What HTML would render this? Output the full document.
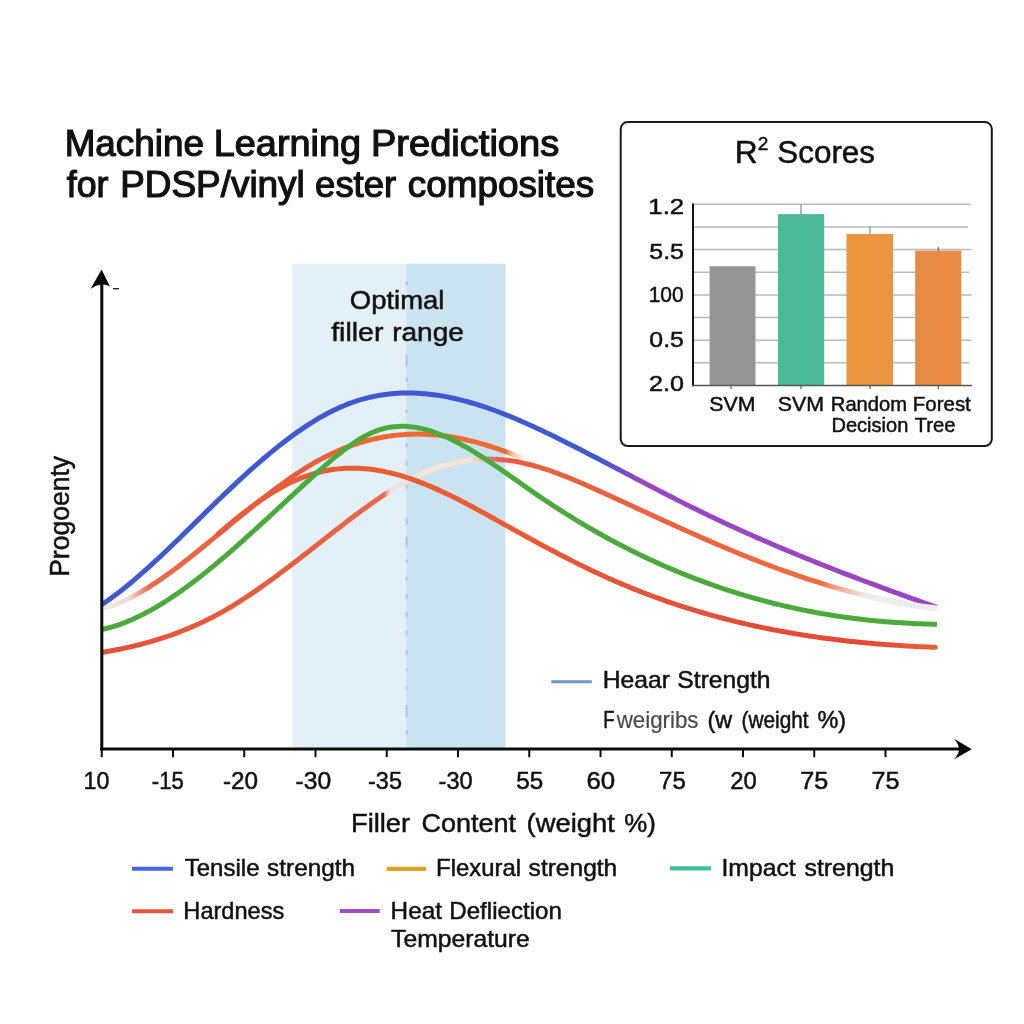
<!DOCTYPE html>
<html lang="en"><head><meta charset="utf-8"><title>Machine Learning Predictions for PDSP/vinyl ester composites</title>
<style>html,body{margin:0;padding:0;background:#fff;}body{width:1024px;height:1024px;overflow:hidden;}svg{display:block;}text{font-family:"Liberation Sans", Arial, Helvetica, sans-serif;fill:#111;}</style></head><body>
<svg width="1024" height="1024" viewBox="0 0 1024 1024">
<defs>
<linearGradient id="gBlue" gradientUnits="userSpaceOnUse" x1="600" y1="0" x2="640" y2="0"><stop offset="0" stop-color="#3f59cf"/><stop offset="1" stop-color="#9a46c1"/></linearGradient>
<linearGradient id="gRedA" gradientUnits="userSpaceOnUse" x1="104" y1="0" x2="531" y2="0"><stop offset="0" stop-color="#f1e7e4"/><stop offset="0.06" stop-color="#f3d9d2"/><stop offset="0.105" stop-color="#e9694a"/><stop offset="0.45" stop-color="#e85c3a"/><stop offset="0.62" stop-color="#ee6833"/><stop offset="0.94" stop-color="#f06a33"/><stop offset="0.955" stop-color="#f9b48c" stop-opacity="0.9"/><stop offset="1" stop-color="#fde6d6" stop-opacity="0"/></linearGradient>
<linearGradient id="gRedC" gradientUnits="userSpaceOnUse" x1="102" y1="0" x2="936.7" y2="0"><stop offset="0.0000" stop-color="#e5513a"/><stop offset="0.2372" stop-color="#e85f3c"/><stop offset="0.3378" stop-color="#ea6a50"/><stop offset="0.3444" stop-color="#ebd9d4"/><stop offset="0.3474" stop-color="#e9e4e2"/><stop offset="0.3630" stop-color="#ece6e3"/><stop offset="0.3714" stop-color="#f3e7dc"/><stop offset="0.4409" stop-color="#f7e5d4"/><stop offset="0.4576" stop-color="#f4b9a6"/><stop offset="0.4636" stop-color="#ee7070"/><stop offset="0.4804" stop-color="#ec5e55"/><stop offset="0.4960" stop-color="#ea5c40"/><stop offset="0.5187" stop-color="#ea5f40"/><stop offset="0.5966" stop-color="#e9603f"/><stop offset="0.8602" stop-color="#ee6c42"/><stop offset="0.8865" stop-color="#f4b39c"/><stop offset="0.9153" stop-color="#efe9e6"/><stop offset="1.0004" stop-color="#eeeeee"/></linearGradient>
<linearGradient id="gRedB" gradientUnits="userSpaceOnUse" x1="240" y1="0" x2="936.7" y2="0"><stop offset="0" stop-color="#e85c3a"/><stop offset="0.2" stop-color="#ec5c32"/><stop offset="0.38" stop-color="#ec5c34"/><stop offset="0.55" stop-color="#e5533a"/><stop offset="0.9" stop-color="#e24a36"/><stop offset="1" stop-color="#ea6038"/></linearGradient>
</defs>
<rect width="1024" height="1024" fill="#fff"/>
<rect x="292" y="263.75" width="114.5" height="484" fill="#e3f0f8"/>
<rect x="406.25" y="263.75" width="99.25" height="484" fill="#cbe3f1"/>
<path d="M406.6 281.2V284.9 M406.6 354.5V366.6 M406.6 377.6V381.3 M406.6 409.4V413.0 M406.6 443.5V447.2 M406.6 460.6V465.5 M406.6 485.0V488.7 M406.6 518.3V524.4 M406.6 536.6V547.6 M406.6 559.8V563.0 M406.6 576.9V580.6 M406.6 594.0V598.9 M406.6 612.3V617.2 M406.6 630.6V635.5 M406.6 650.1V655.0 M406.6 668.5V670.9 M406.6 686.8V689.2 M406.6 705.1V717.3 M406.6 730.7V734.4" stroke="#9cc6d6" stroke-width="1.6" fill="none"/>
<text y="155.90" font-size="36.00" stroke="#111" stroke-width="1.20"><tspan x="64.65" textLength="139.26" lengthAdjust="spacingAndGlyphs">Machine</tspan> <tspan x="213.82" textLength="147.19" lengthAdjust="spacingAndGlyphs">Learning</tspan> <tspan x="370.96" textLength="188.28" lengthAdjust="spacingAndGlyphs">Predictions</tspan></text>
<text y="197.00" font-size="36.00" stroke="#111" stroke-width="1.20"><tspan x="66.74" textLength="41.62" lengthAdjust="spacingAndGlyphs">for</tspan> <tspan x="120.15" textLength="184.65" lengthAdjust="spacingAndGlyphs">PDSP/vinyl</tspan> <tspan x="315.14" textLength="80.98" lengthAdjust="spacingAndGlyphs">ester</tspan> <tspan x="407.88" textLength="186.31" lengthAdjust="spacingAndGlyphs">composites</tspan></text>
<text y="309.30" font-size="26.20" stroke="#111" stroke-width="0.50"><tspan x="349.76" textLength="94.70" lengthAdjust="spacingAndGlyphs">Optimal</tspan></text>
<text y="340.90" font-size="26.20" stroke="#111" stroke-width="0.50"><tspan x="331.22" textLength="52.15" lengthAdjust="spacingAndGlyphs">filler</tspan> <tspan x="392.18" textLength="71.73" lengthAdjust="spacingAndGlyphs">range</tspan></text>
<g fill="none" stroke-width="5" stroke-linecap="butt" stroke-linejoin="round">
<path d="M102.00 652.46 C103.33 652.23 104.66 652.01 105.99 651.77 C107.33 651.54 108.66 651.30 109.99 651.06 C111.32 650.81 112.65 650.56 113.98 650.31 C115.31 650.05 116.64 649.79 117.98 649.52 C119.31 649.26 120.64 648.98 121.97 648.70 C123.30 648.42 124.63 648.14 125.96 647.84 C127.29 647.55 128.63 647.25 129.96 646.95 C131.29 646.64 132.62 646.33 133.95 646.01 C135.28 645.69 136.61 645.36 137.94 645.03 C139.28 644.69 140.61 644.35 141.94 644.00 C143.27 643.65 144.60 643.30 145.93 642.93 C147.26 642.57 148.59 642.20 149.93 641.82 C151.26 641.44 152.59 641.05 153.92 640.65 C155.25 640.26 156.58 639.85 157.91 639.44 C159.24 639.03 160.58 638.60 161.91 638.17 C163.24 637.74 164.57 637.31 165.90 636.86 C167.23 636.41 168.56 635.95 169.89 635.49 C171.23 635.02 172.56 634.55 173.89 634.06 C175.22 633.58 176.55 633.08 177.88 632.58 C179.21 632.08 180.54 631.56 181.88 631.04 C183.21 630.52 184.54 629.98 185.87 629.44 C187.20 628.90 188.53 628.34 189.86 627.78 C191.19 627.22 192.53 626.64 193.86 626.06 C195.19 625.47 196.52 624.88 197.85 624.27 C199.18 623.66 200.51 623.05 201.84 622.42 C203.18 621.79 204.51 621.15 205.84 620.50 C207.17 619.85 208.50 619.19 209.83 618.52 C211.16 617.84 212.49 617.16 213.83 616.46 C215.16 615.76 216.49 615.05 217.82 614.33 C219.15 613.61 220.48 612.88 221.81 612.13 C223.14 611.39 224.48 610.63 225.81 609.86 C227.14 609.09 228.47 608.31 229.80 607.52 C231.13 606.73 232.46 605.93 233.79 605.11 C235.13 604.30 236.46 603.48 237.79 602.64 C239.12 601.81 240.45 600.96 241.78 600.11 C243.11 599.25 244.44 598.39 245.78 597.52 C247.11 596.64 248.44 595.76 249.77 594.87 C251.10 593.98 252.43 593.08 253.76 592.17 C255.09 591.26 256.43 590.35 257.76 589.42 C259.09 588.50 260.42 587.57 261.75 586.63 C263.08 585.69 264.41 584.75 265.74 583.80 C267.08 582.84 268.41 581.88 269.74 580.92 C271.07 579.95 272.40 578.98 273.73 578.01 C275.06 577.03 276.40 576.05 277.73 575.06 C279.06 574.07 280.39 573.08 281.72 572.08 C283.05 571.08 284.38 570.08 285.71 569.07 C287.05 568.07 288.38 567.06 289.71 566.04 C291.04 565.03 292.37 564.01 293.70 562.99 C295.03 561.97 296.36 560.94 297.70 559.91 C299.03 558.89 300.36 557.86 301.69 556.82 C303.02 555.79 304.35 554.76 305.68 553.72 C307.01 552.69 308.35 551.65 309.68 550.61 C311.01 549.57 312.34 548.53 313.67 547.49 C315.00 546.45 316.33 545.41 317.66 544.36 C319.00 543.32 320.33 542.28 321.66 541.24 C322.99 540.20 324.32 539.15 325.65 538.11 C326.98 537.07 328.31 536.03 329.65 534.99 C330.98 533.96 332.31 532.92 333.64 531.88 C334.97 530.85 336.30 529.81 337.63 528.78 C338.96 527.75 340.30 526.72 341.63 525.69 C342.96 524.67 344.29 523.64 345.62 522.62 C346.95 521.60 348.28 520.59 349.61 519.57 C350.95 518.56 352.28 517.55 353.61 516.55 C354.94 515.54 356.27 514.54 357.60 513.55 C358.93 512.56 360.26 511.57 361.60 510.59 C362.93 509.61 364.26 508.63 365.59 507.67 C366.92 506.70 368.25 505.74 369.58 504.79 C370.91 503.84 372.25 502.90 373.58 501.97 C374.91 501.04 376.24 500.11 377.57 499.20 C378.90 498.29 380.23 497.39 381.56 496.49 C382.90 495.60 384.23 494.72 385.56 493.85 C386.89 492.99 388.22 492.13 389.55 491.29 C390.88 490.44 392.21 489.61 393.55 488.80 C394.88 487.98 396.21 487.18 397.54 486.39 C398.87 485.60 400.20 484.83 401.53 484.07 C402.86 483.31 404.20 482.57 405.53 481.84 C406.86 481.11 408.19 480.41 409.52 479.71 C410.85 479.02 412.18 478.34 413.51 477.69 C414.85 477.03 416.18 476.39 417.51 475.77 C418.84 475.14 420.17 474.54 421.50 473.95 C422.83 473.36 424.16 472.79 425.50 472.24 C426.83 471.68 428.16 471.15 429.49 470.63 C430.82 470.11 432.15 469.61 433.48 469.12 C434.81 468.64 436.15 468.17 437.48 467.72 C438.81 467.28 440.14 466.84 441.47 466.43 C442.80 466.02 444.13 465.62 445.47 465.24 C446.80 464.86 448.13 464.50 449.46 464.16 C450.79 463.81 452.12 463.49 453.45 463.18 C454.78 462.87 456.12 462.58 457.45 462.30 C458.78 462.03 460.11 461.77 461.44 461.53 C462.77 461.29 464.10 461.07 465.43 460.87 C466.77 460.67 468.10 460.48 469.43 460.31 C470.76 460.14 472.09 459.99 473.42 459.86 C474.75 459.72 476.08 459.61 477.42 459.51 C478.75 459.41 480.08 459.33 481.41 459.27 C482.74 459.20 484.07 459.16 485.40 459.13 C486.73 459.10 488.07 459.09 489.40 459.10 C490.73 459.11 492.06 459.13 493.39 459.17 C494.72 459.22 496.05 459.28 497.38 459.36 C498.72 459.43 500.05 459.53 501.38 459.64 C502.71 459.76 504.04 459.89 505.37 460.03 C506.70 460.18 508.03 460.35 509.37 460.53 C510.70 460.72 512.03 460.92 513.36 461.13 C514.69 461.35 516.02 461.58 517.35 461.83 C518.68 462.08 520.02 462.35 521.35 462.63 C522.68 462.91 524.01 463.20 525.34 463.51 C526.67 463.82 528.00 464.14 529.33 464.48 C530.67 464.82 532.00 465.17 533.33 465.53 C534.66 465.90 535.99 466.27 537.32 466.66 C538.65 467.05 539.98 467.45 541.32 467.87 C542.65 468.28 543.98 468.70 545.31 469.14 C546.64 469.57 547.97 470.02 549.30 470.48 C550.63 470.93 551.97 471.40 553.30 471.88 C554.63 472.35 555.96 472.84 557.29 473.33 C558.62 473.83 559.95 474.33 561.28 474.84 C562.62 475.35 563.95 475.87 565.28 476.40 C566.61 476.92 567.94 477.46 569.27 478.00 C570.60 478.54 571.93 479.08 573.27 479.64 C574.60 480.19 575.93 480.75 577.26 481.32 C578.59 481.88 579.92 482.45 581.25 483.02 C582.58 483.60 583.92 484.18 585.25 484.76 C586.58 485.34 587.91 485.93 589.24 486.52 C590.57 487.11 591.90 487.71 593.23 488.30 C594.57 488.90 595.90 489.50 597.23 490.10 C598.56 490.70 599.89 491.30 601.22 491.90 C602.55 492.51 603.89 493.11 605.22 493.72 C606.55 494.32 607.88 494.93 609.21 495.54 C610.54 496.14 611.87 496.75 613.20 497.36 C614.54 497.97 615.87 498.58 617.20 499.19 C618.53 499.80 619.86 500.41 621.19 501.02 C622.52 501.63 623.85 502.24 625.19 502.85 C626.52 503.47 627.85 504.08 629.18 504.69 C630.51 505.30 631.84 505.92 633.17 506.53 C634.50 507.14 635.84 507.76 637.17 508.37 C638.50 508.98 639.83 509.60 641.16 510.21 C642.49 510.82 643.82 511.43 645.15 512.05 C646.49 512.66 647.82 513.27 649.15 513.89 C650.48 514.50 651.81 515.11 653.14 515.72 C654.47 516.33 655.80 516.95 657.14 517.56 C658.47 518.17 659.80 518.78 661.13 519.39 C662.46 520.00 663.79 520.61 665.12 521.21 C666.45 521.82 667.79 522.43 669.12 523.04 C670.45 523.64 671.78 524.25 673.11 524.85 C674.44 525.46 675.77 526.06 677.10 526.67 C678.44 527.27 679.77 527.87 681.10 528.47 C682.43 529.07 683.76 529.67 685.09 530.27 C686.42 530.87 687.75 531.47 689.09 532.06 C690.42 532.66 691.75 533.25 693.08 533.84 C694.41 534.44 695.74 535.03 697.07 535.62 C698.40 536.21 699.74 536.79 701.07 537.38 C702.40 537.97 703.73 538.55 705.06 539.13 C706.39 539.72 707.72 540.30 709.05 540.88 C710.39 541.46 711.72 542.03 713.05 542.61 C714.38 543.18 715.71 543.76 717.04 544.33 C718.37 544.90 719.70 545.46 721.04 546.03 C722.37 546.60 723.70 547.16 725.03 547.72 C726.36 548.28 727.69 548.84 729.02 549.40 C730.35 549.96 731.69 550.51 733.02 551.06 C734.35 551.61 735.68 552.16 737.01 552.71 C738.34 553.25 739.67 553.80 741.00 554.34 C742.34 554.88 743.67 555.42 745.00 555.95 C746.33 556.49 747.66 557.02 748.99 557.55 C750.32 558.08 751.65 558.61 752.99 559.14 C754.32 559.66 755.65 560.18 756.98 560.70 C758.31 561.22 759.64 561.74 760.97 562.25 C762.30 562.76 763.64 563.27 764.97 563.78 C766.30 564.29 767.63 564.79 768.96 565.29 C770.29 565.79 771.62 566.29 772.96 566.78 C774.29 567.28 775.62 567.77 776.95 568.26 C778.28 568.75 779.61 569.23 780.94 569.72 C782.27 570.20 783.61 570.68 784.94 571.15 C786.27 571.63 787.60 572.10 788.93 572.57 C790.26 573.04 791.59 573.51 792.92 573.97 C794.26 574.43 795.59 574.89 796.92 575.35 C798.25 575.81 799.58 576.26 800.91 576.71 C802.24 577.16 803.57 577.60 804.91 578.05 C806.24 578.49 807.57 578.93 808.90 579.36 C810.23 579.80 811.56 580.23 812.89 580.66 C814.22 581.09 815.56 581.51 816.89 581.93 C818.22 582.35 819.55 582.77 820.88 583.18 C822.21 583.60 823.54 584.01 824.87 584.41 C826.21 584.82 827.54 585.22 828.87 585.62 C830.20 586.02 831.53 586.41 832.86 586.80 C834.19 587.19 835.52 587.58 836.86 587.96 C838.19 588.35 839.52 588.73 840.85 589.10 C842.18 589.48 843.51 589.85 844.84 590.21 C846.17 590.58 847.51 590.94 848.84 591.30 C850.17 591.66 851.50 592.02 852.83 592.37 C854.16 592.72 855.49 593.07 856.82 593.41 C858.16 593.75 859.49 594.09 860.82 594.43 C862.15 594.76 863.48 595.09 864.81 595.42 C866.14 595.74 867.47 596.06 868.81 596.38 C870.14 596.70 871.47 597.01 872.80 597.32 C874.13 597.63 875.46 597.93 876.79 598.23 C878.12 598.53 879.46 598.83 880.79 599.12 C882.12 599.41 883.45 599.69 884.78 599.98 C886.11 600.26 887.44 600.54 888.77 600.81 C890.11 601.08 891.44 601.35 892.77 601.61 C894.10 601.88 895.43 602.14 896.76 602.39 C898.09 602.64 899.42 602.89 900.76 603.14 C902.09 603.38 903.42 603.62 904.75 603.86 C906.08 604.09 907.41 604.32 908.74 604.55 C910.07 604.78 911.41 605.00 912.74 605.21 C914.07 605.43 915.40 605.64 916.73 605.85 C918.06 606.05 919.39 606.25 920.72 606.45 C922.06 606.64 923.39 606.84 924.72 607.02 C926.05 607.21 927.38 607.39 928.71 607.57 C930.04 607.74 931.37 607.91 932.71 608.08 C934.04 608.24 935.37 608.40 936.70 608.56" stroke="url(#gRedC)"/>
<path d="M104.00 608.43 C105.34 608.04 106.68 607.62 108.02 607.18 C109.36 606.73 110.70 606.27 112.04 605.78 C113.38 605.28 114.72 604.77 116.06 604.23 C117.40 603.70 118.74 603.14 120.08 602.56 C121.42 601.98 122.75 601.38 124.09 600.75 C125.43 600.13 126.77 599.49 128.11 598.83 C129.45 598.16 130.79 597.48 132.13 596.78 C133.47 596.08 134.81 595.36 136.15 594.62 C137.49 593.88 138.83 593.13 140.17 592.35 C141.51 591.58 142.85 590.79 144.19 589.98 C145.53 589.18 146.87 588.35 148.21 587.51 C149.55 586.68 150.89 585.82 152.23 584.95 C153.57 584.09 154.91 583.20 156.25 582.31 C157.58 581.41 158.92 580.50 160.26 579.58 C161.60 578.66 162.94 577.72 164.28 576.78 C165.62 575.83 166.96 574.87 168.30 573.90 C169.64 572.93 170.98 571.95 172.32 570.96 C173.66 569.97 175.00 568.97 176.34 567.96 C177.68 566.96 179.02 565.94 180.36 564.91 C181.70 563.88 183.04 562.85 184.38 561.81 C185.72 560.76 187.06 559.71 188.40 558.66 C189.74 557.60 191.08 556.54 192.42 555.47 C193.75 554.40 195.09 553.33 196.43 552.25 C197.77 551.17 199.11 550.09 200.45 549.00 C201.79 547.92 203.13 546.83 204.47 545.73 C205.81 544.64 207.15 543.54 208.49 542.45 C209.83 541.35 211.17 540.25 212.51 539.14 C213.85 538.04 215.19 536.94 216.53 535.84 C217.87 534.73 219.21 533.63 220.55 532.53 C221.89 531.42 223.23 530.32 224.57 529.22 C225.91 528.12 227.25 527.02 228.58 525.92 C229.92 524.82 231.26 523.72 232.60 522.63 C233.94 521.53 235.28 520.44 236.62 519.35 C237.96 518.25 239.30 517.16 240.64 516.08 C241.98 514.99 243.32 513.91 244.66 512.83 C246.00 511.75 247.34 510.67 248.68 509.60 C250.02 508.53 251.36 507.46 252.70 506.40 C254.04 505.34 255.38 504.28 256.72 503.22 C258.06 502.17 259.40 501.12 260.74 500.08 C262.08 499.03 263.42 498.00 264.75 496.96 C266.09 495.93 267.43 494.91 268.77 493.89 C270.11 492.87 271.45 491.86 272.79 490.85 C274.13 489.85 275.47 488.85 276.81 487.86 C278.15 486.87 279.49 485.88 280.83 484.91 C282.17 483.93 283.51 482.97 284.85 482.01 C286.19 481.05 287.53 480.10 288.87 479.16 C290.21 478.23 291.55 477.30 292.89 476.38 C294.23 475.46 295.57 474.56 296.91 473.66 C298.25 472.77 299.58 471.88 300.92 471.02 C302.26 470.15 303.60 469.29 304.94 468.45 C306.28 467.61 307.62 466.78 308.96 465.97 C310.30 465.15 311.64 464.36 312.98 463.58 C314.32 462.80 315.66 462.03 317.00 461.28 C318.34 460.53 319.68 459.80 321.02 459.09 C322.36 458.37 323.70 457.67 325.04 456.99 C326.38 456.30 327.72 455.64 329.06 454.99 C330.40 454.34 331.74 453.70 333.08 453.08 C334.42 452.46 335.75 451.86 337.09 451.27 C338.43 450.68 339.77 450.11 341.11 449.56 C342.45 449.00 343.79 448.46 345.13 447.94 C346.47 447.41 347.81 446.90 349.15 446.41 C350.49 445.92 351.83 445.44 353.17 444.98 C354.51 444.51 355.85 444.06 357.19 443.63 C358.53 443.20 359.87 442.78 361.21 442.38 C362.55 441.98 363.89 441.59 365.23 441.22 C366.57 440.85 367.91 440.49 369.25 440.15 C370.58 439.81 371.92 439.48 373.26 439.17 C374.60 438.86 375.94 438.56 377.28 438.28 C378.62 438.00 379.96 437.73 381.30 437.48 C382.64 437.22 383.98 436.98 385.32 436.76 C386.66 436.54 388.00 436.33 389.34 436.13 C390.68 435.94 392.02 435.75 393.36 435.59 C394.70 435.42 396.04 435.27 397.38 435.13 C398.72 434.99 400.06 434.87 401.40 434.76 C402.74 434.64 404.08 434.55 405.42 434.47 C406.75 434.38 408.09 434.31 409.43 434.26 C410.77 434.20 412.11 434.16 413.45 434.14 C414.79 434.11 416.13 434.09 417.47 434.09 C418.81 434.09 420.15 434.11 421.49 434.13 C422.83 434.16 424.17 434.20 425.51 434.25 C426.85 434.31 428.19 434.37 429.53 434.45 C430.87 434.53 432.21 434.63 433.55 434.73 C434.89 434.84 436.23 434.96 437.57 435.09 C438.91 435.22 440.25 435.37 441.58 435.52 C442.92 435.68 444.26 435.85 445.60 436.04 C446.94 436.22 448.28 436.42 449.62 436.62 C450.96 436.83 452.30 437.05 453.64 437.29 C454.98 437.52 456.32 437.76 457.66 438.02 C459.00 438.28 460.34 438.54 461.68 438.82 C463.02 439.10 464.36 439.39 465.70 439.69 C467.04 439.99 468.38 440.31 469.72 440.63 C471.06 440.95 472.40 441.29 473.74 441.63 C475.08 441.97 476.42 442.33 477.75 442.69 C479.09 443.06 480.43 443.43 481.77 443.82 C483.11 444.20 484.45 444.59 485.79 445.00 C487.13 445.40 488.47 445.81 489.81 446.24 C491.15 446.66 492.49 447.09 493.83 447.53 C495.17 447.97 496.51 448.42 497.85 448.88 C499.19 449.33 500.53 449.80 501.87 450.27 C503.21 450.75 504.55 451.23 505.89 451.72 C507.23 452.21 508.57 452.71 509.91 453.21 C511.25 453.72 512.58 454.23 513.92 454.75 C515.26 455.27 516.60 455.80 517.94 456.34 C519.28 456.87 520.62 457.41 521.96 457.96 C523.30 458.51 524.64 459.06 525.98 459.62 C527.32 460.18 528.66 460.75 530.00 461.33" stroke="url(#gRedA)"/>
<path d="M218.00 534.10 C219.34 532.92 220.67 531.76 222.01 530.60 C223.34 529.45 224.68 528.30 226.01 527.16 C227.35 526.02 228.69 524.89 230.02 523.77 C231.36 522.66 232.69 521.55 234.03 520.45 C235.36 519.35 236.70 518.27 238.04 517.19 C239.37 516.12 240.71 515.05 242.04 514.00 C243.38 512.95 244.72 511.92 246.05 510.89 C247.39 509.87 248.72 508.86 250.06 507.86 C251.39 506.86 252.73 505.88 254.07 504.91 C255.40 503.94 256.74 502.99 258.07 502.05 C259.41 501.11 260.74 500.19 262.08 499.28 C263.42 498.38 264.75 497.48 266.09 496.61 C267.42 495.74 268.76 494.88 270.09 494.04 C271.43 493.20 272.77 492.38 274.10 491.58 C275.44 490.78 276.77 489.99 278.11 489.23 C279.44 488.46 280.78 487.72 282.12 486.99 C283.45 486.26 284.79 485.56 286.12 484.87 C287.46 484.18 288.79 483.52 290.13 482.87 C291.47 482.23 292.80 481.60 294.14 481.00 C295.47 480.39 296.81 479.81 298.15 479.25 C299.48 478.69 300.82 478.14 302.15 477.63 C303.49 477.11 304.82 476.61 306.16 476.13 C307.50 475.65 308.83 475.20 310.17 474.77 C311.50 474.33 312.84 473.92 314.17 473.54 C315.51 473.15 316.85 472.78 318.18 472.44 C319.52 472.10 320.85 471.77 322.19 471.47 C323.52 471.17 324.86 470.89 326.20 470.64 C327.53 470.38 328.87 470.14 330.20 469.93 C331.54 469.71 332.87 469.52 334.21 469.34 C335.55 469.17 336.88 469.01 338.22 468.88 C339.55 468.75 340.89 468.63 342.23 468.54 C343.56 468.44 344.90 468.37 346.23 468.31 C347.57 468.26 348.90 468.22 350.24 468.20 C351.58 468.18 352.91 468.18 354.25 468.20 C355.58 468.22 356.92 468.26 358.25 468.31 C359.59 468.37 360.93 468.44 362.26 468.53 C363.60 468.62 364.93 468.73 366.27 468.86 C367.60 468.98 368.94 469.13 370.28 469.29 C371.61 469.45 372.95 469.62 374.28 469.81 C375.62 470.01 376.95 470.22 378.29 470.44 C379.63 470.66 380.96 470.91 382.30 471.16 C383.63 471.42 384.97 471.69 386.31 471.98 C387.64 472.26 388.98 472.57 390.31 472.88 C391.65 473.20 392.98 473.53 394.32 473.88 C395.66 474.22 396.99 474.58 398.33 474.96 C399.66 475.33 401.00 475.72 402.33 476.12 C403.67 476.52 405.01 476.94 406.34 477.37 C407.68 477.79 409.01 478.24 410.35 478.69 C411.68 479.14 413.02 479.61 414.36 480.09 C415.69 480.57 417.03 481.06 418.36 481.56 C419.70 482.07 421.03 482.58 422.37 483.11 C423.71 483.63 425.04 484.17 426.38 484.71 C427.71 485.26 429.05 485.82 430.38 486.39 C431.72 486.95 433.06 487.53 434.39 488.12 C435.73 488.70 437.06 489.30 438.40 489.90 C439.74 490.51 441.07 491.12 442.41 491.74 C443.74 492.37 445.08 493.00 446.41 493.63 C447.75 494.27 449.09 494.92 450.42 495.57 C451.76 496.22 453.09 496.88 454.43 497.55 C455.76 498.22 457.10 498.89 458.44 499.57 C459.77 500.25 461.11 500.93 462.44 501.62 C463.78 502.31 465.11 503.01 466.45 503.71 C467.79 504.41 469.12 505.12 470.46 505.83 C471.79 506.54 473.13 507.25 474.46 507.97 C475.80 508.69 477.14 509.41 478.47 510.13 C479.81 510.86 481.14 511.59 482.48 512.32 C483.82 513.05 485.15 513.78 486.49 514.52 C487.82 515.26 489.16 515.99 490.49 516.73 C491.83 517.47 493.17 518.21 494.50 518.96 C495.84 519.70 497.17 520.44 498.51 521.18 C499.84 521.93 501.18 522.67 502.52 523.42 C503.85 524.16 505.19 524.90 506.52 525.65 C507.86 526.39 509.19 527.13 510.53 527.87 C511.87 528.62 513.20 529.36 514.54 530.10 C515.87 530.84 517.21 531.58 518.54 532.31 C519.88 533.05 521.22 533.79 522.55 534.52 C523.89 535.26 525.22 535.99 526.56 536.73 C527.89 537.46 529.23 538.19 530.57 538.92 C531.90 539.65 533.24 540.38 534.57 541.10 C535.91 541.83 537.25 542.55 538.58 543.27 C539.92 543.99 541.25 544.71 542.59 545.43 C543.92 546.15 545.26 546.86 546.60 547.58 C547.93 548.29 549.27 549.00 550.60 549.71 C551.94 550.42 553.27 551.12 554.61 551.82 C555.95 552.53 557.28 553.22 558.62 553.92 C559.95 554.62 561.29 555.31 562.62 556.00 C563.96 556.69 565.30 557.38 566.63 558.06 C567.97 558.75 569.30 559.43 570.64 560.11 C571.97 560.78 573.31 561.46 574.65 562.13 C575.98 562.80 577.32 563.47 578.65 564.13 C579.99 564.79 581.33 565.45 582.66 566.10 C584.00 566.76 585.33 567.41 586.67 568.06 C588.00 568.70 589.34 569.35 590.68 569.98 C592.01 570.62 593.35 571.25 594.68 571.88 C596.02 572.51 597.35 573.14 598.69 573.76 C600.03 574.38 601.36 574.99 602.70 575.60 C604.03 576.21 605.37 576.82 606.70 577.42 C608.04 578.02 609.38 578.61 610.71 579.20 C612.05 579.79 613.38 580.38 614.72 580.96 C616.05 581.54 617.39 582.12 618.73 582.69 C620.06 583.26 621.40 583.83 622.73 584.39 C624.07 584.95 625.41 585.51 626.74 586.06 C628.08 586.61 629.41 587.16 630.75 587.71 C632.08 588.25 633.42 588.79 634.76 589.32 C636.09 589.86 637.43 590.39 638.76 590.91 C640.10 591.44 641.43 591.96 642.77 592.47 C644.11 592.99 645.44 593.50 646.78 594.01 C648.11 594.51 649.45 595.02 650.78 595.51 C652.12 596.01 653.46 596.51 654.79 596.99 C656.13 597.48 657.46 597.97 658.80 598.45 C660.13 598.93 661.47 599.40 662.81 599.88 C664.14 600.35 665.48 600.81 666.81 601.28 C668.15 601.74 669.48 602.20 670.82 602.65 C672.16 603.11 673.49 603.56 674.83 604.00 C676.16 604.45 677.50 604.89 678.84 605.33 C680.17 605.77 681.51 606.20 682.84 606.63 C684.18 607.06 685.51 607.48 686.85 607.90 C688.19 608.32 689.52 608.74 690.86 609.15 C692.19 609.57 693.53 609.97 694.86 610.38 C696.20 610.78 697.54 611.18 698.87 611.58 C700.21 611.98 701.54 612.37 702.88 612.76 C704.21 613.15 705.55 613.53 706.89 613.91 C708.22 614.29 709.56 614.67 710.89 615.04 C712.23 615.41 713.56 615.78 714.90 616.15 C716.24 616.51 717.57 616.87 718.91 617.23 C720.24 617.59 721.58 617.94 722.92 618.29 C724.25 618.64 725.59 618.99 726.92 619.33 C728.26 619.67 729.59 620.01 730.93 620.34 C732.27 620.68 733.60 621.01 734.94 621.34 C736.27 621.66 737.61 621.99 738.94 622.31 C740.28 622.63 741.62 622.94 742.95 623.25 C744.29 623.57 745.62 623.88 746.96 624.18 C748.29 624.49 749.63 624.79 750.97 625.09 C752.30 625.38 753.64 625.68 754.97 625.97 C756.31 626.26 757.64 626.55 758.98 626.83 C760.32 627.12 761.65 627.40 762.99 627.68 C764.32 627.95 765.66 628.23 766.99 628.50 C768.33 628.77 769.67 629.04 771.00 629.30 C772.34 629.56 773.67 629.82 775.01 630.08 C776.35 630.34 777.68 630.59 779.02 630.84 C780.35 631.09 781.69 631.34 783.02 631.58 C784.36 631.83 785.70 632.07 787.03 632.31 C788.37 632.54 789.70 632.78 791.04 633.01 C792.37 633.24 793.71 633.47 795.05 633.69 C796.38 633.92 797.72 634.14 799.05 634.36 C800.39 634.58 801.72 634.79 803.06 635.01 C804.40 635.22 805.73 635.43 807.07 635.63 C808.40 635.84 809.74 636.04 811.07 636.24 C812.41 636.44 813.75 636.64 815.08 636.84 C816.42 637.03 817.75 637.22 819.09 637.41 C820.43 637.60 821.76 637.78 823.10 637.97 C824.43 638.15 825.77 638.33 827.10 638.51 C828.44 638.68 829.78 638.86 831.11 639.03 C832.45 639.20 833.78 639.37 835.12 639.53 C836.45 639.70 837.79 639.86 839.13 640.02 C840.46 640.18 841.80 640.34 843.13 640.50 C844.47 640.65 845.80 640.80 847.14 640.95 C848.48 641.10 849.81 641.25 851.15 641.39 C852.48 641.54 853.82 641.68 855.15 641.82 C856.49 641.96 857.83 642.09 859.16 642.23 C860.50 642.36 861.83 642.49 863.17 642.62 C864.51 642.75 865.84 642.88 867.18 643.00 C868.51 643.12 869.85 643.24 871.18 643.36 C872.52 643.48 873.86 643.60 875.19 643.71 C876.53 643.83 877.86 643.94 879.20 644.05 C880.53 644.16 881.87 644.26 883.21 644.37 C884.54 644.47 885.88 644.58 887.21 644.67 C888.55 644.77 889.88 644.87 891.22 644.97 C892.56 645.06 893.89 645.16 895.23 645.25 C896.56 645.34 897.90 645.43 899.23 645.51 C900.57 645.60 901.91 645.68 903.24 645.77 C904.58 645.85 905.91 645.93 907.25 646.01 C908.58 646.08 909.92 646.16 911.26 646.23 C912.59 646.31 913.93 646.38 915.26 646.45 C916.60 646.52 917.94 646.58 919.27 646.65 C920.61 646.72 921.94 646.78 923.28 646.84 C924.61 646.90 925.95 646.96 927.29 647.02 C928.62 647.08 929.96 647.13 931.29 647.19 C932.63 647.24 933.96 647.29 935.30 647.34" stroke="url(#gRedB)" stroke-linecap="round"/>
<path d="M102.00 629.47 C103.33 629.19 104.66 628.87 106.00 628.54 C107.33 628.21 108.66 627.86 109.99 627.49 C111.32 627.11 112.65 626.72 113.99 626.31 C115.32 625.89 116.65 625.46 117.98 625.01 C119.31 624.55 120.64 624.08 121.98 623.59 C123.31 623.10 124.64 622.59 125.97 622.06 C127.30 621.53 128.63 620.99 129.97 620.42 C131.30 619.86 132.63 619.27 133.96 618.67 C135.29 618.07 136.63 617.46 137.96 616.82 C139.29 616.19 140.62 615.54 141.95 614.87 C143.28 614.20 144.62 613.52 145.95 612.81 C147.28 612.11 148.61 611.40 149.94 610.67 C151.27 609.93 152.61 609.19 153.94 608.42 C155.27 607.66 156.60 606.88 157.93 606.09 C159.26 605.30 160.60 604.49 161.93 603.67 C163.26 602.85 164.59 602.02 165.92 601.17 C167.26 600.32 168.59 599.46 169.92 598.59 C171.25 597.71 172.58 596.82 173.91 595.92 C175.25 595.02 176.58 594.11 177.91 593.19 C179.24 592.26 180.57 591.33 181.90 590.38 C183.24 589.43 184.57 588.47 185.90 587.50 C187.23 586.53 188.56 585.54 189.89 584.55 C191.23 583.56 192.56 582.56 193.89 581.54 C195.22 580.53 196.55 579.51 197.89 578.47 C199.22 577.44 200.55 576.40 201.88 575.35 C203.21 574.29 204.54 573.23 205.88 572.16 C207.21 571.10 208.54 570.02 209.87 568.93 C211.20 567.85 212.53 566.75 213.87 565.65 C215.20 564.55 216.53 563.44 217.86 562.32 C219.19 561.20 220.52 560.08 221.86 558.95 C223.19 557.82 224.52 556.68 225.85 555.54 C227.18 554.40 228.52 553.25 229.85 552.09 C231.18 550.94 232.51 549.77 233.84 548.61 C235.17 547.44 236.51 546.27 237.84 545.09 C239.17 543.92 240.50 542.73 241.83 541.55 C243.16 540.36 244.50 539.17 245.83 537.98 C247.16 536.78 248.49 535.58 249.82 534.38 C251.15 533.18 252.49 531.97 253.82 530.76 C255.15 529.55 256.48 528.34 257.81 527.12 C259.15 525.91 260.48 524.69 261.81 523.47 C263.14 522.25 264.47 521.03 265.80 519.80 C267.14 518.58 268.47 517.35 269.80 516.12 C271.13 514.90 272.46 513.67 273.79 512.44 C275.13 511.21 276.46 509.98 277.79 508.74 C279.12 507.51 280.45 506.28 281.78 505.05 C283.12 503.82 284.45 502.58 285.78 501.35 C287.11 500.12 288.44 498.89 289.78 497.66 C291.11 496.43 292.44 495.20 293.77 493.97 C295.10 492.74 296.43 491.51 297.77 490.29 C299.10 489.06 300.43 487.83 301.76 486.61 C303.09 485.39 304.42 484.17 305.76 482.95 C307.09 481.73 308.42 480.52 309.75 479.31 C311.08 478.10 312.41 476.89 313.75 475.68 C315.08 474.47 316.41 473.27 317.74 472.08 C319.07 470.88 320.41 469.69 321.74 468.51 C323.07 467.32 324.40 466.15 325.73 464.98 C327.06 463.82 328.40 462.67 329.73 461.53 C331.06 460.39 332.39 459.26 333.72 458.15 C335.05 457.04 336.39 455.94 337.72 454.86 C339.05 453.79 340.38 452.73 341.71 451.69 C343.04 450.65 344.38 449.63 345.71 448.63 C347.04 447.64 348.37 446.67 349.70 445.72 C351.04 444.77 352.37 443.85 353.70 442.95 C355.03 442.06 356.36 441.19 357.69 440.36 C359.03 439.52 360.36 438.72 361.69 437.94 C363.02 437.17 364.35 436.43 365.68 435.73 C367.02 435.02 368.35 434.35 369.68 433.72 C371.01 433.09 372.34 432.49 373.67 431.94 C375.01 431.39 376.34 430.87 377.67 430.40 C379.00 429.93 380.33 429.50 381.67 429.12 C383.00 428.73 384.33 428.38 385.66 428.08 C386.99 427.77 388.32 427.51 389.66 427.28 C390.99 427.06 392.32 426.87 393.65 426.72 C394.98 426.57 396.31 426.46 397.65 426.38 C398.98 426.30 400.31 426.26 401.64 426.26 C402.97 426.25 404.30 426.28 405.64 426.34 C406.97 426.40 408.30 426.50 409.63 426.63 C410.96 426.75 412.30 426.91 413.63 427.10 C414.96 427.29 416.29 427.51 417.62 427.76 C418.95 428.01 420.29 428.28 421.62 428.59 C422.95 428.89 424.28 429.23 425.61 429.59 C426.94 429.94 428.28 430.33 429.61 430.74 C430.94 431.15 432.27 431.59 433.60 432.04 C434.93 432.50 436.27 432.98 437.60 433.49 C438.93 433.99 440.26 434.52 441.59 435.07 C442.93 435.61 444.26 436.18 445.59 436.77 C446.92 437.35 448.25 437.96 449.58 438.59 C450.92 439.21 452.25 439.85 453.58 440.52 C454.91 441.18 456.24 441.86 457.57 442.55 C458.91 443.24 460.24 443.96 461.57 444.68 C462.90 445.41 464.23 446.15 465.56 446.91 C466.90 447.66 468.23 448.43 469.56 449.21 C470.89 450.00 472.22 450.79 473.56 451.60 C474.89 452.41 476.22 453.23 477.55 454.06 C478.88 454.89 480.21 455.73 481.55 456.58 C482.88 457.43 484.21 458.30 485.54 459.17 C486.87 460.04 488.20 460.91 489.54 461.80 C490.87 462.69 492.20 463.58 493.53 464.48 C494.86 465.38 496.19 466.29 497.53 467.20 C498.86 468.11 500.19 469.03 501.52 469.95 C502.85 470.88 504.19 471.80 505.52 472.73 C506.85 473.66 508.18 474.60 509.51 475.53 C510.84 476.47 512.18 477.40 513.51 478.34 C514.84 479.28 516.17 480.22 517.50 481.16 C518.83 482.10 520.17 483.04 521.50 483.98 C522.83 484.92 524.16 485.86 525.49 486.79 C526.82 487.73 528.16 488.66 529.49 489.59 C530.82 490.52 532.15 491.45 533.48 492.37 C534.81 493.29 536.15 494.21 537.48 495.13 C538.81 496.04 540.14 496.95 541.47 497.85 C542.81 498.75 544.14 499.65 545.47 500.54 C546.80 501.43 548.13 502.31 549.46 503.19 C550.80 504.07 552.13 504.95 553.46 505.82 C554.79 506.69 556.12 507.55 557.45 508.41 C558.79 509.27 560.12 510.12 561.45 510.96 C562.78 511.81 564.11 512.65 565.44 513.49 C566.78 514.33 568.11 515.16 569.44 515.98 C570.77 516.81 572.10 517.63 573.44 518.44 C574.77 519.26 576.10 520.07 577.43 520.87 C578.76 521.68 580.09 522.47 581.43 523.27 C582.76 524.06 584.09 524.85 585.42 525.63 C586.75 526.42 588.08 527.19 589.42 527.97 C590.75 528.74 592.08 529.50 593.41 530.27 C594.74 531.03 596.07 531.79 597.41 532.54 C598.74 533.29 600.07 534.03 601.40 534.77 C602.73 535.52 604.07 536.25 605.40 536.98 C606.73 537.71 608.06 538.44 609.39 539.16 C610.72 539.88 612.06 540.59 613.39 541.30 C614.72 542.01 616.05 542.72 617.38 543.42 C618.71 544.12 620.05 544.81 621.38 545.50 C622.71 546.19 624.04 546.87 625.37 547.55 C626.70 548.23 628.04 548.91 629.37 549.58 C630.70 550.25 632.03 550.91 633.36 551.57 C634.70 552.23 636.03 552.88 637.36 553.53 C638.69 554.18 640.02 554.82 641.35 555.46 C642.69 556.10 644.02 556.74 645.35 557.37 C646.68 557.99 648.01 558.62 649.34 559.24 C650.68 559.86 652.01 560.47 653.34 561.08 C654.67 561.69 656.00 562.29 657.33 562.89 C658.67 563.49 660.00 564.09 661.33 564.68 C662.66 565.27 663.99 565.85 665.33 566.43 C666.66 567.01 667.99 567.59 669.32 568.16 C670.65 568.73 671.98 569.29 673.32 569.85 C674.65 570.41 675.98 570.97 677.31 571.52 C678.64 572.07 679.97 572.62 681.31 573.16 C682.64 573.70 683.97 574.24 685.30 574.77 C686.63 575.30 687.96 575.83 689.30 576.35 C690.63 576.88 691.96 577.39 693.29 577.91 C694.62 578.42 695.96 578.93 697.29 579.43 C698.62 579.94 699.95 580.43 701.28 580.93 C702.61 581.42 703.95 581.91 705.28 582.40 C706.61 582.88 707.94 583.36 709.27 583.84 C710.60 584.31 711.94 584.79 713.27 585.25 C714.60 585.72 715.93 586.18 717.26 586.64 C718.59 587.10 719.93 587.55 721.26 588.00 C722.59 588.45 723.92 588.89 725.25 589.33 C726.59 589.77 727.92 590.20 729.25 590.63 C730.58 591.06 731.91 591.49 733.24 591.91 C734.58 592.33 735.91 592.75 737.24 593.16 C738.57 593.57 739.90 593.98 741.23 594.38 C742.57 594.79 743.90 595.19 745.23 595.58 C746.56 595.98 747.89 596.37 749.22 596.75 C750.56 597.14 751.89 597.52 753.22 597.90 C754.55 598.27 755.88 598.64 757.22 599.01 C758.55 599.38 759.88 599.74 761.21 600.10 C762.54 600.46 763.87 600.82 765.21 601.17 C766.54 601.52 767.87 601.87 769.20 602.21 C770.53 602.55 771.86 602.89 773.20 603.22 C774.53 603.56 775.86 603.89 777.19 604.21 C778.52 604.54 779.85 604.86 781.19 605.17 C782.52 605.49 783.85 605.80 785.18 606.11 C786.51 606.42 787.85 606.72 789.18 607.02 C790.51 607.32 791.84 607.62 793.17 607.91 C794.50 608.20 795.84 608.49 797.17 608.77 C798.50 609.06 799.83 609.34 801.16 609.61 C802.49 609.89 803.83 610.16 805.16 610.42 C806.49 610.69 807.82 610.95 809.15 611.21 C810.48 611.47 811.82 611.73 813.15 611.98 C814.48 612.23 815.81 612.47 817.14 612.72 C818.48 612.96 819.81 613.20 821.14 613.43 C822.47 613.67 823.80 613.90 825.13 614.12 C826.47 614.35 827.80 614.57 829.13 614.79 C830.46 615.01 831.79 615.22 833.12 615.43 C834.46 615.64 835.79 615.85 837.12 616.05 C838.45 616.26 839.78 616.46 841.11 616.65 C842.45 616.84 843.78 617.04 845.11 617.22 C846.44 617.41 847.77 617.59 849.11 617.77 C850.44 617.95 851.77 618.13 853.10 618.30 C854.43 618.47 855.76 618.64 857.10 618.80 C858.43 618.97 859.76 619.13 861.09 619.28 C862.42 619.44 863.75 619.59 865.09 619.74 C866.42 619.89 867.75 620.04 869.08 620.18 C870.41 620.32 871.74 620.46 873.08 620.59 C874.41 620.72 875.74 620.86 877.07 620.98 C878.40 621.11 879.74 621.23 881.07 621.35 C882.40 621.47 883.73 621.58 885.06 621.70 C886.39 621.81 887.73 621.92 889.06 622.02 C890.39 622.13 891.72 622.23 893.05 622.32 C894.38 622.42 895.72 622.51 897.05 622.60 C898.38 622.69 899.71 622.78 901.04 622.86 C902.37 622.95 903.71 623.03 905.04 623.10 C906.37 623.18 907.70 623.25 909.03 623.32 C910.37 623.39 911.70 623.45 913.03 623.51 C914.36 623.58 915.69 623.63 917.02 623.69 C918.36 623.74 919.69 623.79 921.02 623.84 C922.35 623.89 923.68 623.93 925.01 623.98 C926.35 624.02 927.68 624.05 929.01 624.09 C930.34 624.12 931.67 624.15 933.00 624.18 C934.34 624.21 935.67 624.23 937.00 624.25" stroke="#4caa3c"/>
<path d="M102.00 604.52 C103.33 603.63 104.66 602.72 105.99 601.79 C107.33 600.87 108.66 599.92 109.99 598.96 C111.32 598.01 112.65 597.03 113.98 596.04 C115.31 595.05 116.64 594.04 117.98 593.02 C119.31 592.00 120.64 590.97 121.97 589.92 C123.30 588.87 124.63 587.80 125.96 586.73 C127.29 585.65 128.63 584.56 129.96 583.46 C131.29 582.36 132.62 581.24 133.95 580.12 C135.28 578.99 136.61 577.85 137.94 576.70 C139.28 575.55 140.61 574.39 141.94 573.22 C143.27 572.05 144.60 570.87 145.93 569.68 C147.26 568.49 148.59 567.29 149.93 566.08 C151.26 564.88 152.59 563.66 153.92 562.43 C155.25 561.21 156.58 559.98 157.91 558.74 C159.24 557.50 160.58 556.25 161.91 554.99 C163.24 553.74 164.57 552.48 165.90 551.21 C167.23 549.95 168.56 548.68 169.89 547.40 C171.23 546.12 172.56 544.84 173.89 543.55 C175.22 542.27 176.55 540.98 177.88 539.68 C179.21 538.39 180.54 537.09 181.88 535.79 C183.21 534.49 184.54 533.19 185.87 531.88 C187.20 530.58 188.53 529.27 189.86 527.96 C191.19 526.66 192.53 525.35 193.86 524.04 C195.19 522.73 196.52 521.42 197.85 520.11 C199.18 518.79 200.51 517.48 201.84 516.18 C203.18 514.87 204.51 513.56 205.84 512.25 C207.17 510.95 208.50 509.64 209.83 508.34 C211.16 507.04 212.49 505.74 213.83 504.44 C215.16 503.15 216.49 501.85 217.82 500.56 C219.15 499.27 220.48 497.99 221.81 496.71 C223.14 495.43 224.48 494.15 225.81 492.88 C227.14 491.61 228.47 490.34 229.80 489.08 C231.13 487.82 232.46 486.57 233.79 485.32 C235.13 484.07 236.46 482.82 237.79 481.59 C239.12 480.35 240.45 479.12 241.78 477.90 C243.11 476.67 244.44 475.45 245.78 474.24 C247.11 473.04 248.44 471.83 249.77 470.64 C251.10 469.45 252.43 468.26 253.76 467.08 C255.09 465.90 256.43 464.73 257.76 463.57 C259.09 462.41 260.42 461.26 261.75 460.12 C263.08 458.97 264.41 457.84 265.74 456.72 C267.08 455.59 268.41 454.48 269.74 453.38 C271.07 452.27 272.40 451.18 273.73 450.10 C275.06 449.02 276.40 447.95 277.73 446.89 C279.06 445.83 280.39 444.78 281.72 443.74 C283.05 442.70 284.38 441.68 285.71 440.66 C287.05 439.65 288.38 438.65 289.71 437.66 C291.04 436.67 292.37 435.70 293.70 434.74 C295.03 433.77 296.36 432.83 297.70 431.89 C299.03 430.96 300.36 430.03 301.69 429.13 C303.02 428.22 304.35 427.33 305.68 426.45 C307.01 425.57 308.35 424.70 309.68 423.86 C311.01 423.01 312.34 422.17 313.67 421.36 C315.00 420.54 316.33 419.74 317.66 418.95 C319.00 418.16 320.33 417.39 321.66 416.64 C322.99 415.89 324.32 415.15 325.65 414.43 C326.98 413.71 328.31 413.01 329.65 412.32 C330.98 411.64 332.31 410.97 333.64 410.32 C334.97 409.67 336.30 409.04 337.63 408.43 C338.96 407.82 340.30 407.22 341.63 406.65 C342.96 406.07 344.29 405.52 345.62 404.98 C346.95 404.44 348.28 403.93 349.61 403.43 C350.95 402.93 352.28 402.45 353.61 401.99 C354.94 401.54 356.27 401.10 357.60 400.67 C358.93 400.25 360.26 399.85 361.60 399.46 C362.93 399.08 364.26 398.71 365.59 398.37 C366.92 398.02 368.25 397.69 369.58 397.37 C370.91 397.06 372.25 396.77 373.58 396.49 C374.91 396.21 376.24 395.95 377.57 395.71 C378.90 395.47 380.23 395.24 381.56 395.03 C382.90 394.82 384.23 394.63 385.56 394.45 C386.89 394.28 388.22 394.12 389.55 393.98 C390.88 393.83 392.21 393.71 393.55 393.59 C394.88 393.48 396.21 393.39 397.54 393.31 C398.87 393.23 400.20 393.16 401.53 393.11 C402.86 393.07 404.20 393.03 405.53 393.01 C406.86 392.99 408.19 392.99 409.52 393.00 C410.85 393.01 412.18 393.03 413.51 393.07 C414.85 393.11 416.18 393.17 417.51 393.23 C418.84 393.30 420.17 393.38 421.50 393.48 C422.83 393.57 424.16 393.68 425.50 393.80 C426.83 393.92 428.16 394.06 429.49 394.21 C430.82 394.35 432.15 394.52 433.48 394.69 C434.81 394.86 436.15 395.05 437.48 395.25 C438.81 395.45 440.14 395.66 441.47 395.88 C442.80 396.10 444.13 396.34 445.47 396.59 C446.80 396.83 448.13 397.09 449.46 397.36 C450.79 397.63 452.12 397.91 453.45 398.21 C454.78 398.50 456.12 398.80 457.45 399.12 C458.78 399.43 460.11 399.76 461.44 400.09 C462.77 400.43 464.10 400.78 465.43 401.13 C466.77 401.49 468.10 401.85 469.43 402.23 C470.76 402.61 472.09 402.99 473.42 403.39 C474.75 403.79 476.08 404.19 477.42 404.61 C478.75 405.02 480.08 405.44 481.41 405.88 C482.74 406.31 484.07 406.75 485.40 407.20 C486.73 407.65 488.07 408.11 489.40 408.58 C490.73 409.04 492.06 409.52 493.39 410.00 C494.72 410.48 496.05 410.98 497.38 411.47 C498.72 411.97 500.05 412.48 501.38 412.99 C502.71 413.51 504.04 414.03 505.37 414.56 C506.70 415.08 508.03 415.62 509.37 416.16 C510.70 416.70 512.03 417.25 513.36 417.80 C514.69 418.36 516.02 418.92 517.35 419.49 C518.68 420.05 520.02 420.63 521.35 421.21 C522.68 421.79 524.01 422.37 525.34 422.96 C526.67 423.55 528.00 424.15 529.33 424.75 C530.67 425.35 532.00 425.95 533.33 426.56 C534.66 427.18 535.99 427.79 537.32 428.41 C538.65 429.03 539.98 429.65 541.32 430.28 C542.65 430.91 543.98 431.54 545.31 432.18 C546.64 432.82 547.97 433.46 549.30 434.10 C550.63 434.75 551.97 435.39 553.30 436.04 C554.63 436.70 555.96 437.35 557.29 438.01 C558.62 438.66 559.95 439.32 561.28 439.98 C562.62 440.65 563.95 441.31 565.28 441.98 C566.61 442.65 567.94 443.32 569.27 443.99 C570.60 444.66 571.93 445.33 573.27 446.01 C574.60 446.68 575.93 447.36 577.26 448.04 C578.59 448.72 579.92 449.40 581.25 450.08 C582.58 450.76 583.92 451.44 585.25 452.13 C586.58 452.81 587.91 453.50 589.24 454.19 C590.57 454.87 591.90 455.56 593.23 456.25 C594.57 456.94 595.90 457.63 597.23 458.32 C598.56 459.02 599.89 459.71 601.22 460.40 C602.55 461.10 603.89 461.79 605.22 462.49 C606.55 463.18 607.88 463.88 609.21 464.57 C610.54 465.27 611.87 465.97 613.20 466.66 C614.54 467.36 615.87 468.06 617.20 468.75 C618.53 469.45 619.86 470.15 621.19 470.85 C622.52 471.55 623.85 472.25 625.19 472.94 C626.52 473.64 627.85 474.34 629.18 475.04 C630.51 475.74 631.84 476.43 633.17 477.13 C634.50 477.83 635.84 478.53 637.17 479.22 C638.50 479.92 639.83 480.62 641.16 481.31 C642.49 482.01 643.82 482.70 645.15 483.40 C646.49 484.09 647.82 484.79 649.15 485.48 C650.48 486.17 651.81 486.87 653.14 487.56 C654.47 488.25 655.80 488.94 657.14 489.63 C658.47 490.32 659.80 491.00 661.13 491.69 C662.46 492.38 663.79 493.06 665.12 493.75 C666.45 494.43 667.79 495.11 669.12 495.80 C670.45 496.48 671.78 497.16 673.11 497.83 C674.44 498.51 675.77 499.19 677.10 499.86 C678.44 500.54 679.77 501.21 681.10 501.88 C682.43 502.55 683.76 503.22 685.09 503.89 C686.42 504.55 687.75 505.22 689.09 505.88 C690.42 506.54 691.75 507.20 693.08 507.86 C694.41 508.51 695.74 509.17 697.07 509.82 C698.40 510.48 699.74 511.13 701.07 511.77 C702.40 512.42 703.73 513.07 705.06 513.71 C706.39 514.35 707.72 514.99 709.05 515.63 C710.39 516.27 711.72 516.90 713.05 517.53 C714.38 518.17 715.71 518.80 717.04 519.42 C718.37 520.05 719.70 520.68 721.04 521.30 C722.37 521.92 723.70 522.54 725.03 523.16 C726.36 523.78 727.69 524.40 729.02 525.01 C730.35 525.63 731.69 526.24 733.02 526.85 C734.35 527.46 735.68 528.06 737.01 528.67 C738.34 529.27 739.67 529.88 741.00 530.48 C742.34 531.08 743.67 531.68 745.00 532.27 C746.33 532.87 747.66 533.46 748.99 534.06 C750.32 534.65 751.65 535.24 752.99 535.83 C754.32 536.42 755.65 537.00 756.98 537.59 C758.31 538.17 759.64 538.75 760.97 539.33 C762.30 539.91 763.64 540.49 764.97 541.07 C766.30 541.65 767.63 542.22 768.96 542.79 C770.29 543.36 771.62 543.94 772.96 544.50 C774.29 545.07 775.62 545.64 776.95 546.21 C778.28 546.77 779.61 547.33 780.94 547.90 C782.27 548.46 783.61 549.02 784.94 549.58 C786.27 550.13 787.60 550.69 788.93 551.25 C790.26 551.80 791.59 552.35 792.92 552.90 C794.26 553.46 795.59 554.01 796.92 554.55 C798.25 555.10 799.58 555.65 800.91 556.19 C802.24 556.74 803.57 557.28 804.91 557.82 C806.24 558.36 807.57 558.91 808.90 559.44 C810.23 559.98 811.56 560.52 812.89 561.05 C814.22 561.59 815.56 562.12 816.89 562.66 C818.22 563.19 819.55 563.72 820.88 564.25 C822.21 564.78 823.54 565.31 824.87 565.83 C826.21 566.36 827.54 566.89 828.87 567.41 C830.20 567.93 831.53 568.46 832.86 568.98 C834.19 569.50 835.52 570.02 836.86 570.54 C838.19 571.05 839.52 571.57 840.85 572.09 C842.18 572.60 843.51 573.12 844.84 573.63 C846.17 574.14 847.51 574.65 848.84 575.16 C850.17 575.67 851.50 576.18 852.83 576.69 C854.16 577.20 855.49 577.70 856.82 578.21 C858.16 578.71 859.49 579.22 860.82 579.72 C862.15 580.22 863.48 580.72 864.81 581.22 C866.14 581.72 867.47 582.22 868.81 582.72 C870.14 583.22 871.47 583.71 872.80 584.21 C874.13 584.70 875.46 585.20 876.79 585.69 C878.12 586.18 879.46 586.68 880.79 587.17 C882.12 587.66 883.45 588.15 884.78 588.64 C886.11 589.12 887.44 589.61 888.77 590.10 C890.11 590.58 891.44 591.07 892.77 591.55 C894.10 592.04 895.43 592.52 896.76 593.00 C898.09 593.49 899.42 593.97 900.76 594.45 C902.09 594.93 903.42 595.41 904.75 595.89 C906.08 596.37 907.41 596.84 908.74 597.32 C910.07 597.80 911.41 598.27 912.74 598.75 C914.07 599.22 915.40 599.70 916.73 600.17 C918.06 600.64 919.39 601.11 920.72 601.58 C922.06 602.06 923.39 602.53 924.72 603.00 C926.05 603.46 927.38 603.93 928.71 604.40 C930.04 604.87 931.37 605.34 932.71 605.80 C934.04 606.27 935.37 606.73 936.70 607.20" stroke="url(#gBlue)"/>
<path d="M872.00 597.13 C873.35 597.45 874.71 597.76 876.06 598.07 C877.42 598.37 878.77 598.67 880.12 598.97 C881.48 599.27 882.83 599.56 884.19 599.85 C885.54 600.14 886.90 600.42 888.25 600.70 C889.60 600.98 890.96 601.25 892.31 601.52 C893.67 601.79 895.02 602.06 896.38 602.32 C897.73 602.57 899.08 602.83 900.44 603.08 C901.79 603.33 903.15 603.57 904.50 603.81 C905.85 604.05 907.21 604.29 908.56 604.52 C909.92 604.75 911.27 604.97 912.62 605.19 C913.98 605.41 915.33 605.63 916.69 605.84 C918.04 606.05 919.40 606.25 920.75 606.45 C922.10 606.65 923.46 606.85 924.81 607.04 C926.17 607.22 927.52 607.41 928.88 607.59 C930.23 607.77 931.58 607.94 932.94 608.11 C934.29 608.27 935.65 608.44 937.00 608.59" stroke="#ededed" stroke-width="6.2"/>
</g>
<g stroke="#0a0a0a" fill="none">
<line x1="101.8" y1="283" x2="101.8" y2="750.6" stroke-width="3"/>
<line x1="100.3" y1="749.1" x2="960" y2="749.1" stroke-width="3"/>
<line x1="101.75" y1="748" x2="101.75" y2="757.2" stroke-width="2"/>
<line x1="173.00" y1="748" x2="173.00" y2="757.2" stroke-width="2"/>
<line x1="244.25" y1="748" x2="244.25" y2="757.2" stroke-width="2"/>
<line x1="315.50" y1="748" x2="315.50" y2="757.2" stroke-width="2"/>
<line x1="386.75" y1="748" x2="386.75" y2="757.2" stroke-width="2"/>
<line x1="458.00" y1="748" x2="458.00" y2="757.2" stroke-width="2"/>
<line x1="529.25" y1="748" x2="529.25" y2="757.2" stroke-width="2"/>
<line x1="600.50" y1="748" x2="600.50" y2="757.2" stroke-width="2"/>
<line x1="671.75" y1="748" x2="671.75" y2="757.2" stroke-width="2"/>
<line x1="743.00" y1="748" x2="743.00" y2="757.2" stroke-width="2"/>
<line x1="814.25" y1="748" x2="814.25" y2="757.2" stroke-width="2"/>
<line x1="885.50" y1="748" x2="885.50" y2="757.2" stroke-width="2"/>
<line x1="113" y1="288.7" x2="119" y2="288.7" stroke-width="1.2"/>
</g>
<path d="M101.6 269.5 L110 286.4 Q105.5 284 101.7 284.6 Q96 285 90.6 288.8 Z" fill="#0a0a0a"/>
<path d="M971.75 749.25 L953.75 738.6 Q958.9 744 958.9 749.25 Q958.9 754.5 953.75 759.6 Z" fill="#0a0a0a"/>
<text y="788.60" font-size="23.80" stroke="#111" stroke-width="0.50"><tspan x="83.51" textLength="25.83" lengthAdjust="spacingAndGlyphs">10</tspan></text>
<text y="788.60" font-size="23.80" stroke="#111" stroke-width="0.50"><tspan x="151.86" textLength="32.05" lengthAdjust="spacingAndGlyphs">-15</tspan></text>
<text y="788.60" font-size="23.80" stroke="#111" stroke-width="0.50"><tspan x="223.03" textLength="35.10" lengthAdjust="spacingAndGlyphs">-20</tspan></text>
<text y="788.60" font-size="23.80" stroke="#111" stroke-width="0.50"><tspan x="295.51" textLength="35.63" lengthAdjust="spacingAndGlyphs">-30</tspan></text>
<text y="788.60" font-size="23.80" stroke="#111" stroke-width="0.50"><tspan x="368.06" textLength="33.90" lengthAdjust="spacingAndGlyphs">-35</tspan></text>
<text y="788.60" font-size="23.80" stroke="#111" stroke-width="0.50"><tspan x="438.56" textLength="34.04" lengthAdjust="spacingAndGlyphs">-30</tspan></text>
<text y="788.60" font-size="23.80" stroke="#111" stroke-width="0.50"><tspan x="516.28" textLength="26.97" lengthAdjust="spacingAndGlyphs">55</tspan></text>
<text y="788.60" font-size="23.80" stroke="#111" stroke-width="0.50"><tspan x="586.46" textLength="28.72" lengthAdjust="spacingAndGlyphs">60</tspan></text>
<text y="788.60" font-size="23.80" stroke="#111" stroke-width="0.50"><tspan x="659.05" textLength="26.69" lengthAdjust="spacingAndGlyphs">75</tspan></text>
<text y="788.60" font-size="23.80" stroke="#111" stroke-width="0.50"><tspan x="730.31" textLength="26.56" lengthAdjust="spacingAndGlyphs">20</tspan></text>
<text y="788.60" font-size="23.80" stroke="#111" stroke-width="0.50"><tspan x="800.24" textLength="28.05" lengthAdjust="spacingAndGlyphs">75</tspan></text>
<text y="788.60" font-size="23.80" stroke="#111" stroke-width="0.50"><tspan x="871.49" textLength="28.05" lengthAdjust="spacingAndGlyphs">75</tspan></text>
<text y="832.00" font-size="26.50" stroke="#111" stroke-width="0.50"><tspan x="351.07" textLength="59.03" lengthAdjust="spacingAndGlyphs">Filler</tspan> <tspan x="421.40" textLength="94.68" lengthAdjust="spacingAndGlyphs">Content</tspan> <tspan x="526.61" textLength="88.22" lengthAdjust="spacingAndGlyphs">(weight</tspan> <tspan x="624.34" textLength="31.61" lengthAdjust="spacingAndGlyphs">%)</tspan></text>
<text y="0.00" font-size="27.50" stroke="#111" stroke-width="0.50" transform="translate(69 575) rotate(-90)"><tspan x="-1.87" textLength="121.02" lengthAdjust="spacingAndGlyphs">Progoenty</tspan></text>
<line x1="551.25" y1="681.75" x2="591.75" y2="681.75" stroke="#6a97cd" stroke-width="3.2"/>
<text y="688.30" font-size="23.20" stroke="#111" stroke-width="0.50"><tspan x="602.77" textLength="67.30" lengthAdjust="spacingAndGlyphs">Heaar</tspan> <tspan x="677.39" textLength="93.11" lengthAdjust="spacingAndGlyphs">Strength</tspan></text>
<text y="728.30" font-size="23.20" stroke="#111" stroke-width="0.50"><tspan x="603.26" textLength="11.35" lengthAdjust="spacingAndGlyphs">F</tspan><tspan fill="#4a4a4a" stroke="#4a4a4a" stroke-width="0.2" x="616.66" textLength="81.87" lengthAdjust="spacingAndGlyphs">weigribs</tspan> <tspan x="707.60" textLength="24.58" lengthAdjust="spacingAndGlyphs">(w</tspan> <tspan x="741.50" textLength="67.06" lengthAdjust="spacingAndGlyphs">(weight</tspan> <tspan x="817.43" textLength="28.68" lengthAdjust="spacingAndGlyphs">%)</tspan></text>
<line x1="132.00" y1="868.75" x2="173.00" y2="868.75" stroke="#4466e0" stroke-width="4.2"/>
<text y="875.80" font-size="23.20" stroke="#111" stroke-width="0.50"><tspan x="184.77" textLength="74.72" lengthAdjust="spacingAndGlyphs">Tensile</tspan> <tspan x="267.14" textLength="87.90" lengthAdjust="spacingAndGlyphs">strength</tspan></text>
<line x1="387.00" y1="868.90" x2="426.00" y2="868.90" stroke="#d9a227" stroke-width="4.2"/>
<text y="876.00" font-size="23.20" stroke="#111" stroke-width="0.50"><tspan x="436.14" textLength="84.89" lengthAdjust="spacingAndGlyphs">Flexural</tspan> <tspan x="528.64" textLength="88.61" lengthAdjust="spacingAndGlyphs">strength</tspan></text>
<line x1="670.00" y1="868.40" x2="711.00" y2="868.40" stroke="#3fbf95" stroke-width="4.2"/>
<text y="875.80" font-size="23.20" stroke="#111" stroke-width="0.50"><tspan x="721.42" textLength="74.30" lengthAdjust="spacingAndGlyphs">Impact</tspan> <tspan x="804.53" textLength="89.74" lengthAdjust="spacingAndGlyphs">strength</tspan></text>
<line x1="132.00" y1="911.25" x2="173.00" y2="911.25" stroke="#e8553a" stroke-width="4.2"/>
<text y="918.60" font-size="23.20" stroke="#111" stroke-width="0.50"><tspan x="183.36" textLength="100.96" lengthAdjust="spacingAndGlyphs">Hardness</tspan></text>
<line x1="339.80" y1="911.00" x2="379.70" y2="911.00" stroke="#a24fc4" stroke-width="4.2"/>
<text y="918.80" font-size="23.20" stroke="#111" stroke-width="0.50"><tspan x="390.61" textLength="51.31" lengthAdjust="spacingAndGlyphs">Heat</tspan> <tspan x="449.32" textLength="112.50" lengthAdjust="spacingAndGlyphs">Defliection</tspan></text>
<text y="947.20" font-size="23.20" stroke="#111" stroke-width="0.50"><tspan x="391.06" textLength="138.71" lengthAdjust="spacingAndGlyphs">Temperature</tspan></text>
<rect x="620.7" y="122.1" width="371.1" height="323.9" rx="7" ry="7" fill="#fff" stroke="#1a1a1a" stroke-width="2"/>
<text y="162.6" font-size="31" stroke="#111" stroke-width="0.50"><tspan x="734.72" textLength="22.87" lengthAdjust="spacingAndGlyphs">R</tspan><tspan x="757.8" dy="-12.6" font-size="19">2</tspan> <tspan dy="12.6"><tspan x="777.24" textLength="97.81" lengthAdjust="spacingAndGlyphs">Scores</tspan></tspan></text>
<line x1="693" y1="204.30" x2="971.0" y2="204.30" stroke="#b9b9b9" stroke-width="1.5"/>
<line x1="693" y1="226.95" x2="968.0" y2="226.95" stroke="#b9b9b9" stroke-width="1.5"/>
<line x1="693" y1="249.60" x2="971.5" y2="249.60" stroke="#b9b9b9" stroke-width="1.5"/>
<line x1="693" y1="272.25" x2="969.0" y2="272.25" stroke="#b9b9b9" stroke-width="1.5"/>
<line x1="693" y1="294.90" x2="971.5" y2="294.90" stroke="#b9b9b9" stroke-width="1.5"/>
<line x1="693" y1="317.55" x2="969.0" y2="317.55" stroke="#b9b9b9" stroke-width="1.5"/>
<line x1="693" y1="340.20" x2="971.5" y2="340.20" stroke="#b9b9b9" stroke-width="1.5"/>
<line x1="693" y1="362.85" x2="969.0" y2="362.85" stroke="#b9b9b9" stroke-width="1.5"/>
<rect x="709.6" y="266.25" width="45.9" height="119.5" fill="#959595"/>
<rect x="778" y="214.1" width="46.2" height="171.6" fill="#4aba98"/>
<rect x="846.5" y="234" width="46.5" height="151.7" fill="#ec9541"/>
<rect x="915.2" y="250.6" width="46.1" height="135.1" fill="#e98a45"/>
<line x1="801" y1="204.3" x2="801" y2="214.2" stroke="#8a9a9a" stroke-width="1.4"/>
<line x1="870" y1="226.8" x2="870" y2="234.2" stroke="#7a8a8a" stroke-width="1.2"/>
<line x1="938.3" y1="247.3" x2="938.3" y2="250.8" stroke="#556" stroke-width="1.2"/>
<line x1="693" y1="203.6" x2="693" y2="386.3" stroke="#141414" stroke-width="2"/>
<line x1="692.2" y1="385.5" x2="972" y2="385.5" stroke="#555" stroke-width="1.5"/>
<line x1="731.0" y1="385.5" x2="731.0" y2="389" stroke="#555" stroke-width="1.2"/>
<line x1="801.0" y1="385.5" x2="801.0" y2="389" stroke="#555" stroke-width="1.2"/>
<line x1="870.0" y1="385.5" x2="870.0" y2="389" stroke="#555" stroke-width="1.2"/>
<line x1="938.3" y1="385.5" x2="938.3" y2="389" stroke="#555" stroke-width="1.2"/>
<text y="214.30" font-size="22.60" stroke="#111" stroke-width="0.50"><tspan x="648.32" textLength="35.82" lengthAdjust="spacingAndGlyphs">1.2</tspan></text>
<text y="258.70" font-size="22.60" stroke="#111" stroke-width="0.50"><tspan x="649.25" textLength="34.73" lengthAdjust="spacingAndGlyphs">5.5</tspan></text>
<text y="302.40" font-size="22.60" stroke="#111" stroke-width="0.50"><tspan x="648.68" textLength="35.03" lengthAdjust="spacingAndGlyphs">100</tspan></text>
<text y="346.50" font-size="22.60" stroke="#111" stroke-width="0.50"><tspan x="649.38" textLength="34.60" lengthAdjust="spacingAndGlyphs">0.5</tspan></text>
<text y="390.80" font-size="22.60" stroke="#111" stroke-width="0.50"><tspan x="649.00" textLength="34.86" lengthAdjust="spacingAndGlyphs">2.0</tspan></text>
<text y="411.40" font-size="21.00" stroke="#111" stroke-width="0.50"><tspan x="709.29" textLength="46.12" lengthAdjust="spacingAndGlyphs">SVM</tspan></text>
<text y="411.40" font-size="21.00" stroke="#111" stroke-width="0.50"><tspan x="777.69" textLength="46.22" lengthAdjust="spacingAndGlyphs">SVM</tspan></text>
<text y="411.30" font-size="21.00" stroke="#111" stroke-width="0.50"><tspan x="830.84" textLength="76.18" lengthAdjust="spacingAndGlyphs">Random</tspan> <tspan x="912.86" textLength="57.94" lengthAdjust="spacingAndGlyphs">Forest</tspan></text>
<text y="431.70" font-size="21.00" stroke="#111" stroke-width="0.50"><tspan x="831.45" textLength="76.93" lengthAdjust="spacingAndGlyphs">Decision</tspan> <tspan x="914.65" textLength="40.84" lengthAdjust="spacingAndGlyphs">Tree</tspan></text>
</svg></body></html>
